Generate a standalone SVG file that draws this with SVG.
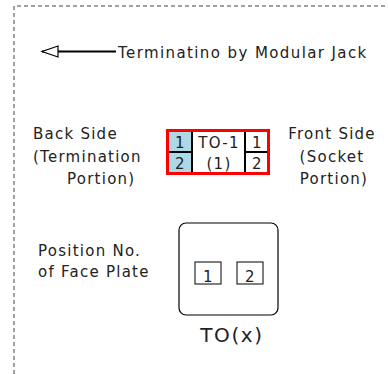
<svg xmlns="http://www.w3.org/2000/svg" width="388" height="374" viewBox="0 0 388 374">
<style>
text{font-family:"DejaVu Sans",Verdana,sans-serif;font-size:15px;fill:#222;letter-spacing:1.25px}
.c{text-anchor:middle}
.ln{stroke:#000;stroke-width:2;fill:none}
</style>
<defs>
<marker id="ah" markerWidth="20" markerHeight="14" refX="17" refY="6" orient="auto" markerUnits="userSpaceOnUse">
<path d="M1,0.5 L17,6 L1,11.5 Z" fill="#fff" stroke="#000" stroke-width="1.2"/>
</marker>
</defs>
<g id="frame">
<path d="M14,374 V6 H388" fill="none" stroke="#444" stroke-width="1" stroke-dasharray="4,3"/>
</g>
<g id="connectors">
<line x1="116" y1="51.5" x2="42" y2="51.5" stroke="#000" stroke-width="2" marker-end="url(#ah)"/>
</g>
<g id="legend">
<text x="118" y="58" style="letter-spacing:1.4px">Terminatino by Modular Jack</text>
</g>
<g id="back-side">
<text x="33" y="139">Back Side</text>
<text x="33" y="162">(Termination</text>
<text x="67" y="184">Portion)</text>
</g>
<g id="to1">
<rect x="167" y="130" width="25" height="43" fill="#add8e6"/>
<line x1="167" y1="152" x2="192" y2="152" class="ln"/>
<line x1="192" y1="130" x2="192" y2="173" class="ln"/>
<line x1="245" y1="130" x2="245" y2="173" class="ln"/>
<line x1="245" y1="152" x2="268" y2="152" class="ln"/>
<rect x="167.5" y="130.5" width="101" height="43" fill="none" stroke="#f00" stroke-width="3"/>
<text x="180.5" y="148" class="c">1</text>
<text x="180.5" y="169" class="c">2</text>
<text x="219" y="148" class="c">TO-1</text>
<text x="219" y="169" class="c">(1)</text>
<text x="257.5" y="148" class="c">1</text>
<text x="257.5" y="169" class="c">2</text>
</g>
<g id="front-side">
<text x="332" y="139" class="c">Front Side</text>
<text x="332" y="162" class="c">(Socket</text>
<text x="334" y="184" class="c">Portion)</text>
</g>
<g id="position-label">
<text x="38" y="256">Position No.</text>
<text x="38" y="277">of Face Plate</text>
</g>
<g id="faceplate">
<rect x="179" y="223" width="99" height="92" rx="7" fill="#fff" stroke="#000" stroke-width="1.2"/>
<rect x="195" y="262" width="26" height="22" fill="#fff" stroke="#000" stroke-width="1"/>
<rect x="237" y="262" width="26" height="22" fill="#fff" stroke="#000" stroke-width="1"/>
<text x="208.5" y="282" class="c">1</text>
<text x="250.5" y="282" class="c">2</text>
<text x="232" y="342" class="c" style="font-size:20px;letter-spacing:1.6px">TO(x)</text>
</g>
</svg>
